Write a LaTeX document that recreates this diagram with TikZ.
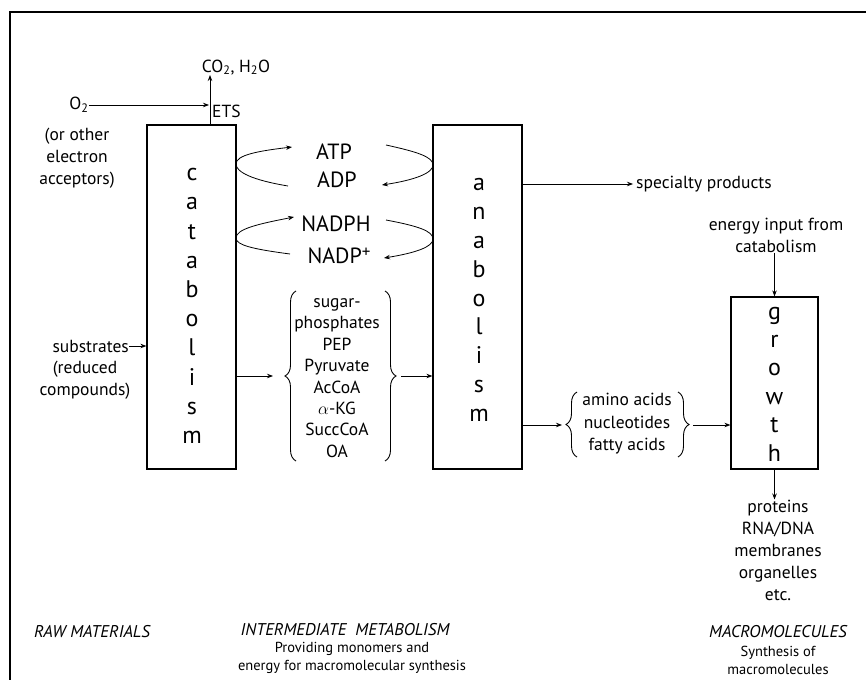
\documentclass[tikz,border=0pt]{standalone}
\usepackage{fontspec}
\setmainfont{PT Sans}
\usetikzlibrary{arrows.meta,decorations.pathreplacing,calc}

\begin{document}
\begin{tikzpicture}[x=1pt,y=-1pt,
  lbl/.style={font=\fontsize{17.5}{22}\selectfont, align=center, inner sep=0pt},
  colhead/.style={font=\fontsize{17}{20}\selectfont\itshape, inner sep=0pt},
  colnote/.style={font=\fontsize{14.5}{18}\selectfont, align=center, inner sep=0pt},
  big/.style={font=\fontsize{22}{26}\selectfont, inner sep=0pt},
  stack/.style={font=\fontsize{24}{29.2}\selectfont, align=center, inner sep=0pt},
  stage/.style={draw, line width=1.2pt, inner sep=0pt},
  arr/.style={line width=0.8pt, -{Stealth[length=6pt,width=4.5pt]}},
  brc/.style={line width=0.9pt, decorate, decoration={brace, amplitude=11pt, aspect=0.5}},
]
\useasboundingbox (0,0) rectangle (866,679);

% outer frame, running off the right and bottom edges
\begin{scope}
  \clip (0,0) rectangle (866,679);
  \draw[line width=1.8pt] (10,700) -- (10,12) -- (880,12);
\end{scope}

% the three stage boxes
\node[stage, minimum width=89pt, minimum height=344pt] (cat) at (191.5,297) {};
\node[stack] (catL) at (192,306) {c\\a\\t\\a\\b\\o\\l\\i\\s\\m};
\node[stage, minimum width=89pt, minimum height=344pt] (ana) at (477.5,297) {};
\node[stack, font=\fontsize{24}{28.8}\selectfont] (anaL) at (479,300) {a\\n\\a\\b\\o\\l\\i\\s\\m};
\node[stage, minimum width=87pt, minimum height=172pt] (gro) at (774.5,383) {};
\node[stack, font=\fontsize{24}{28.4}\selectfont] (groL) at (774.5,384) {g\\r\\o\\w\\t\\h};

% electron transport
\coordinate (etsbase) at (210,125);
\node[lbl, anchor=south] (co2) at (236,75) {CO\textsubscript{2}, H\textsubscript{2}O};
\node[lbl, anchor=west] (ets) at (212,111) {ETS};
\node[lbl] (o2) at (79,105) {O\textsubscript{2}};
\node[lbl] (acc) at (77,158) {(or other\\electron\\acceptors)};
\draw[line width=0.9pt, -{Stealth[length=6pt,width=4.5pt]}] (etsbase) -- (etsbase |- co2.south);
\draw[arr] (o2.east) -- ([xshift=-1pt]o2.east -| etsbase);

% substrates
\node[lbl, anchor=east] (subs) at (129,346) {substrates};
\node[lbl] (red) at (85,380) {(reduced\\compounds)};
\draw[arr] (subs.east) -- (subs.east -| cat.west);

% energy carriers
\node[big] (atp) at (334,152) {ATP};
\node[big] (adp) at (337,180) {ADP};
\node[big] (nadph) at (336,224) {NADPH};
\node[big] (nadp) at (339,256) {NADP\raisebox{6pt}{\fontsize{17}{17}\selectfont +}};

\coordinate (a1) at (288,186);
\coordinate (a2) at (292,147);
\coordinate (a3) at (386,145);
\coordinate (a4) at (382,185);
\draw[arr] (a1) .. controls (252,180) and (236,172) .. (236,164)
                .. controls (236,155) and (258,151) .. (a2);
\draw[arr] (a3) .. controls (418,152) and (433,157) .. (433,165)
                .. controls (433,173) and (415,180) .. (a4);
\coordinate (n1) at (290,254);
\coordinate (n2) at (294,217);
\coordinate (n3) at (386,220);
\coordinate (n4) at (384,258);
\draw[arr] (n1) .. controls (252,249) and (236,245) .. (236,238)
                .. controls (236,229) and (258,224) .. (n2);
\draw[arr] (n3) .. controls (418,226) and (433,231) .. (433,239)
                .. controls (433,247) and (415,253) .. (n4);

% intermediates
\node[lbl, font=\fontsize{17.5}{21.4}\selectfont] (mets) at (337,378)
  {sugar-\\phosphates\\PEP\\Pyruvate\\AcCoA\\$\alpha$-KG\\SuccCoA\\OA};
\draw[brc] (296,461) -- (296,291);
\draw[brc] (385,291) -- (385,461);
\coordinate (lb) at (283,376);
\coordinate (rb) at (398,376);
\draw[arr] (lb -| cat.east) -- ([xshift=-10pt]lb);
\draw[arr] ([xshift=3pt]rb) -- (rb -| ana.west);

% specialty products
\node[lbl, anchor=west] (spec) at (636,184) {specialty products};
\draw[arr] (spec.west -| ana.east) -- ([xshift=-3pt]spec.west);

% monomers
\node[lbl, font=\fontsize{17.5}{22.5}\selectfont] (mono) at (627,424) {amino acids\\nucleotides\\fatty acids};
\draw[brc] (577,457) -- (577,392);
\draw[brc] (678,392) -- (678,457);
\coordinate (lb2) at (566,425);
\coordinate (rb2) at (690,425);
\draw[arr] (lb2 -| ana.east) -- ([xshift=-4pt]lb2);
\draw[arr] ([xshift=3pt]rb2) -- (rb2 -| gro.west);

% energy into growth
\node[lbl] (energy) at (776,235) {energy input from\\catabolism};
\draw[arr] (energy.south -| gro.north) -- (gro.north);

% growth products
\node[lbl] (prod) at (778,550) {proteins\\RNA/DNA\\membranes\\organelles\\etc.};
\draw[arr] (gro.south) -- (gro.south |- prod.north);

% column captions
\node[colhead] (raw) at (92,632) {RAW MATERIALS};
\node[colhead] (inter) at (345,630) {INTERMEDIATE\ \ METABOLISM};
\node[colnote] (interS) at (352,658) {Providing monomers and\\energy for macromolecular synthesis};
\node[colhead] (macro) at (778,632) {MACROMOLECULES};
\node[colnote] (macroS) at (778,660) {Synthesis of\\macromolecules};
\end{tikzpicture}
\end{document}
